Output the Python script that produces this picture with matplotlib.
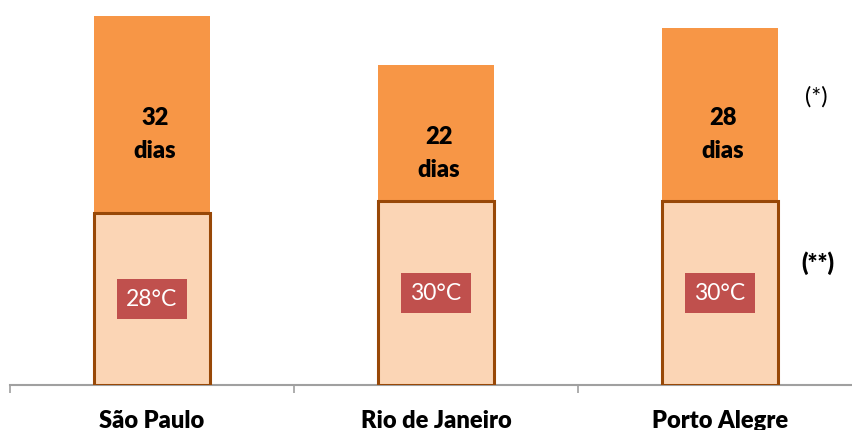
import matplotlib.pyplot as plt
import numpy as np

cidades = ["São Paulo", "Rio de Janeiro", "Porto Alegre"]
temperatura = [28, 30, 30]   # parte de baixo (°C)
dias = [32, 22, 28]          # parte de cima (dias)

plt.rcParams['font.family'] = ['Lato', 'DejaVu Sans']

fig = plt.figure(figsize=(8.53, 4.31), dpi=100)
# eixo ligeiramente maior que a figura, como no original
ax = fig.add_axes([10 / 853, 45 / 431, 852 / 853, 386 / 431])

x = np.arange(len(cidades))
larg = 0.405

ax.bar(x, dias, larg, bottom=temperatura, color='#F79646', zorder=2)
ax.bar(x, temperatura, larg, color='#FBD5B5', edgecolor='#984807',
       linewidth=2.2, zorder=3)

for i in range(len(cidades)):
    ax.text(x[i], temperatura[i] / 2, f"{temperatura[i]}°C", ha='center',
            va='center', color='white', fontsize=16.5, zorder=4,
            bbox=dict(boxstyle='square,pad=0.42', fc='#C0504D', ec='none'))
    ax.annotate(f"{dias[i]}\ndias", (x[i], temperatura[i] + dias[i] / 2),
                xytext=(2, -14), textcoords='offset points', ha='center',
                va='center', fontsize=17, fontweight='heavy',
                linespacing=1.6, zorder=4)

ax.text(2.30, 47.0, "(*)", fontsize=17, ha='left', va='center')
ax.text(2.285, 20.0, "(**)", fontsize=17, fontweight='heavy', ha='left',
        va='center')

ax.set_xlim(-0.5, 2.5)
ax.set_ylim(0, 386 / 6.15)

ax.set_xticks(x)
ax.set_xticklabels(cidades, fontsize=17, fontweight='heavy')
ax.tick_params(axis='x', which='major', length=0, pad=17)
ax.set_xticks([-0.5, 0.5, 1.5, 2.5], minor=True)
ax.tick_params(axis='x', which='minor', length=6, width=1.2, color='#A0A0A0')
ax.set_yticks([])

for s in ['top', 'right', 'left']:
    ax.spines[s].set_visible(False)
ax.spines['bottom'].set_color('#A0A0A0')
ax.spines['bottom'].set_linewidth(1.5)

fig.savefig('out.png', dpi=100)
